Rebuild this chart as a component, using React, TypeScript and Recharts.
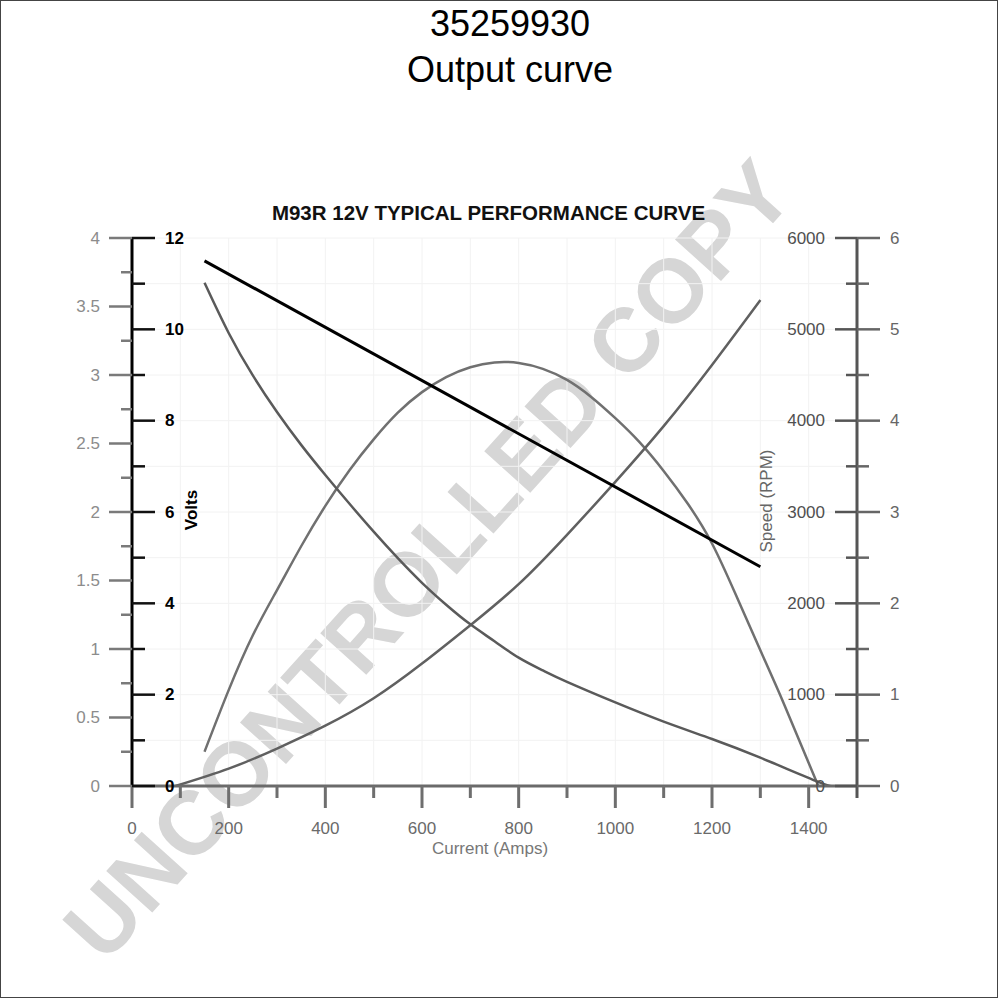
import React from 'react';
import { LineChart, Line, XAxis, YAxis, CartesianGrid } from 'recharts';

// ---- text ----
const chartTitle = '35259930';
const chartSubtitle = 'Output curve';
const plotTitle = 'M93R 12V TYPICAL PERFORMANCE CURVE';
const watermarkText = 'UNCONTROLLED COPY';
const xAxisTitle = 'Current (Amps)';
const voltsTitle = 'Volts';
const speedTitle = 'Speed (RPM)';

// ---- axes ticks ----
const currentTicks = [0, 100, 200, 300, 400, 500, 600, 700, 800, 900, 1000, 1100, 1200, 1300, 1400, 1500];
const currentLabels = [0, 200, 400, 600, 800, 1000, 1200, 1400];
const powerTicks = [0, 0.25, 0.5, 0.75, 1, 1.25, 1.5, 1.75, 2, 2.25, 2.5, 2.75, 3, 3.25, 3.5, 3.75, 4];
const powerLabels = [0, 0.5, 1, 1.5, 2, 2.5, 3, 3.5, 4];
const voltsTicks = [0, 1, 2, 3, 4, 5, 6, 7, 8, 9, 10, 11, 12];
const voltsLabels = [0, 2, 4, 6, 8, 10, 12];
const speedTicks = [0, 500, 1000, 1500, 2000, 2500, 3000, 3500, 4000, 4500, 5000, 5500, 6000];
const speedLabels = [0, 1000, 2000, 3000, 4000, 5000, 6000];
const torqueTicks = [0, 0.5, 1, 1.5, 2, 2.5, 3, 3.5, 4, 4.5, 5, 5.5, 6];
const torqueLabels = [0, 1, 2, 3, 4, 5, 6];

// ---- series ----
const voltsCurrent = [150, 1300];
const voltsValues = [11.5, 4.8];

const speedCurrent = [150, 200, 250, 300, 350, 400, 450, 500, 550, 600, 650, 700, 750, 800, 850, 900, 1000, 1100, 1200, 1300, 1420, 1450];
const speedValues = [5510, 4960, 4495, 4095, 3735, 3405, 3090, 2785, 2495, 2225, 1985, 1770, 1585, 1405, 1265, 1140, 915, 705, 515, 310, 45, 0];

const powerCurrent = [150, 200, 250, 300, 350, 400, 450, 500, 550, 600, 650, 700, 750, 800, 850, 900, 950, 1000, 1050, 1100, 1150, 1200, 1250, 1300, 1350, 1420];
const powerValues = [0.25, 0.7, 1.1, 1.43, 1.75, 2.045, 2.305, 2.53, 2.725, 2.875, 2.985, 3.057, 3.092, 3.088, 3.045, 2.964, 2.84, 2.685, 2.51, 2.3, 2.06, 1.77, 1.39, 0.99, 0.59, 0];

const torqueCurrent = [90, 200, 300, 400, 500, 600, 700, 800, 900, 1000, 1100, 1200, 1300];
const torqueValues = [0, 0.19, 0.41, 0.66, 0.96, 1.34, 1.76, 2.21, 2.75, 3.33, 3.94, 4.61, 5.32];

const toData = (xs: number[], ys: number[]) => xs.map((a, i) => ({ a, v: ys[i] }));
const voltsData = toData(voltsCurrent, voltsValues);
const speedData = toData(speedCurrent, speedValues);
const powerData = toData(powerCurrent, powerValues);
const torqueData = toData(torqueCurrent, torqueValues);

const FONT = '"Liberation Sans", Arial, Helvetica, sans-serif';

const XTick = (props: any) => {
  const { x, y, payload } = props;
  const v = payload.value;
  const isLabel = currentLabels.includes(v);
  const len = isLabel ? 22 : 12;
  return (
    <g>
      <line x1={x} x2={x} y1={y} y2={y + len} stroke={v === 1500 ? '#555' : '#6e6e6e'} strokeWidth={3} />
      {isLabel && (
        <text x={x} y={y + 42} textAnchor="middle" dominantBaseline="central" fill="#6a6a6a" fontSize={17} fontFamily={FONT}>
          {v}
        </text>
      )}
    </g>
  );
};

const PowerTick = (props: any) => {
  const { x, y, payload } = props;
  const v = payload.value;
  const major = powerLabels.includes(v);
  return (
    <g>
      <line x1={x} x2={x - (major ? 23 : 11)} y1={y} y2={y} stroke="#7a7a7a" strokeWidth={2.5} />
      {major && (
        <text x={x - 32} y={y} textAnchor="end" dominantBaseline="central" fill="#8c8c8c" fontSize={17} fontFamily={FONT}>
          {v}
        </text>
      )}
    </g>
  );
};

const VoltsTick = (props: any) => {
  const { x, y, payload } = props;
  const v = payload.value;
  const major = voltsLabels.includes(v);
  return (
    <g>
      <line x1={x} x2={x + (major ? 23 : 13)} y1={y} y2={y} stroke="#111" strokeWidth={2.5} />
      {major && (
        <text x={x + 33} y={y} textAnchor="start" dominantBaseline="central" fill="#000" fontWeight="bold" fontSize={17} fontFamily={FONT}>
          {v}
        </text>
      )}
    </g>
  );
};

const SpeedTick = (props: any) => {
  const { x, y, payload } = props;
  const v = payload.value;
  const major = speedLabels.includes(v);
  return (
    <g>
      <line x1={x} x2={x - (major ? 22 : 11)} y1={y} y2={y} stroke="#555" strokeWidth={2.5} />
      {major && (
        <text x={x - 32} y={y} textAnchor="end" dominantBaseline="central" fill="#4f4f4f" fontSize={17} fontFamily={FONT}>
          {v}
        </text>
      )}
    </g>
  );
};

const TorqueTick = (props: any) => {
  const { x, y, payload } = props;
  const v = payload.value;
  const major = torqueLabels.includes(v);
  return (
    <g>
      <line x1={x} x2={x + (major ? 23 : 12)} y1={y} y2={y} stroke="#666" strokeWidth={2.5} />
      {major && (
        <text x={x + 33} y={y} textAnchor="start" dominantBaseline="central" fill="#666" fontSize={17} fontFamily={FONT}>
          {v}
        </text>
      )}
    </g>
  );
};

const abs = (extra: React.CSSProperties): React.CSSProperties => ({
  position: 'absolute',
  whiteSpace: 'nowrap',
  fontFamily: FONT,
  ...extra,
});

export default function App() {
  return (
    <div style={{ position: 'absolute', left: 0, top: 0, width: 1000, height: 1000, background: '#fff', overflow: 'hidden' }}>
      <div style={abs({ left: 0, top: 0, width: 998, height: 998, border: '1px solid #444', boxSizing: 'border-box' })} />
      <div
        style={abs({
          left: 428,
          top: 560,
          transform: 'translate(-50%, -50%) rotate(-48deg)',
          fontSize: 90,
          lineHeight: '90px',
          fontWeight: 'bold',
          color: '#d6d6d6',
        })}
      >
        {watermarkText}
      </div>
      <div style={abs({ left: 0, width: 1020, top: 6, textAlign: 'center', fontSize: 36, lineHeight: '36px', color: '#000' })}>
        {chartTitle}
      </div>
      <div style={abs({ left: 0, width: 1020, top: 52, textAlign: 'center', fontSize: 36, lineHeight: '36px', color: '#000' })}>
        {chartSubtitle}
      </div>
      <div style={abs({ left: 0, width: 977, top: 203, textAlign: 'center', fontSize: 20.5, lineHeight: '20px', fontWeight: 'bold', color: '#111' })}>
        {plotTitle}
      </div>
      <div style={{ position: 'absolute', left: 0, top: 0 }}>
        <LineChart width={1000} height={1000} margin={{ top: 238, right: 63, bottom: 144, left: 32 }}>
          <CartesianGrid xAxisId="x" yAxisId="volts" stroke="#f2f2f2" strokeWidth={1} />
          <XAxis
            xAxisId="x"
            dataKey="a"
            type="number"
            domain={[0, 1500]}
            ticks={currentTicks}
            interval={0}
            allowDataOverflow
            height={70}
            tickLine={false}
            tickSize={0}
            tickMargin={0}
            axisLine={{ stroke: '#6a6a6a', strokeWidth: 3 }}
            tick={<XTick />}
          />
          <YAxis
            yAxisId="power"
            orientation="left"
            type="number"
            domain={[0, 4]}
            ticks={powerTicks}
            interval={0}
            allowDataOverflow
            width={100}
            tickLine={false}
            tickSize={0}
            tickMargin={0}
            axisLine={false}
            tick={<PowerTick />}
          />
          <YAxis
            yAxisId="volts"
            orientation="left"
            mirror
            type="number"
            domain={[0, 12]}
            ticks={voltsTicks}
            interval={0}
            allowDataOverflow
            tickLine={false}
            tickSize={0}
            tickMargin={0}
            axisLine={{ stroke: '#000', strokeWidth: 3 }}
            tick={<VoltsTick />}
          />
          <YAxis
            yAxisId="speed"
            orientation="right"
            mirror
            type="number"
            domain={[0, 6000]}
            ticks={speedTicks}
            interval={0}
            allowDataOverflow
            tickLine={false}
            tickSize={0}
            tickMargin={0}
            axisLine={{ stroke: '#555', strokeWidth: 3 }}
            tick={<SpeedTick />}
          />
          <YAxis
            yAxisId="torque"
            orientation="right"
            type="number"
            domain={[0, 6]}
            ticks={torqueTicks}
            interval={0}
            allowDataOverflow
            width={80}
            tickLine={false}
            tickSize={0}
            tickMargin={0}
            axisLine={false}
            tick={<TorqueTick />}
          />
          <Line xAxisId="x" yAxisId="power" data={powerData} dataKey="v" type="natural" stroke="#707070" strokeWidth={2.5} dot={false} isAnimationActive={false} />
          <Line xAxisId="x" yAxisId="torque" data={torqueData} dataKey="v" type="natural" stroke="#606060" strokeWidth={2.5} dot={false} isAnimationActive={false} />
          <Line xAxisId="x" yAxisId="speed" data={speedData} dataKey="v" type="natural" stroke="#5a5a5a" strokeWidth={2.5} dot={false} isAnimationActive={false} />
          <Line xAxisId="x" yAxisId="volts" data={voltsData} dataKey="v" type="linear" stroke="#000" strokeWidth={3} dot={false} isAnimationActive={false} />
        </LineChart>
      </div>
      <div style={abs({ left: 490, top: 848, transform: 'translate(-50%, -50%)', fontSize: 17, lineHeight: '17px', color: '#777' })}>
        {xAxisTitle}
      </div>
      <div style={abs({ left: 191, top: 510, transform: 'translate(-50%, -50%) rotate(-90deg)', fontSize: 17, lineHeight: '17px', fontWeight: 'bold', color: '#000' })}>
        {voltsTitle}
      </div>
      <div style={abs({ left: 766, top: 501, transform: 'translate(-50%, -50%) rotate(-90deg)', fontSize: 17, lineHeight: '17px', color: '#666' })}>
        {speedTitle}
      </div>
    </div>
  );
}
